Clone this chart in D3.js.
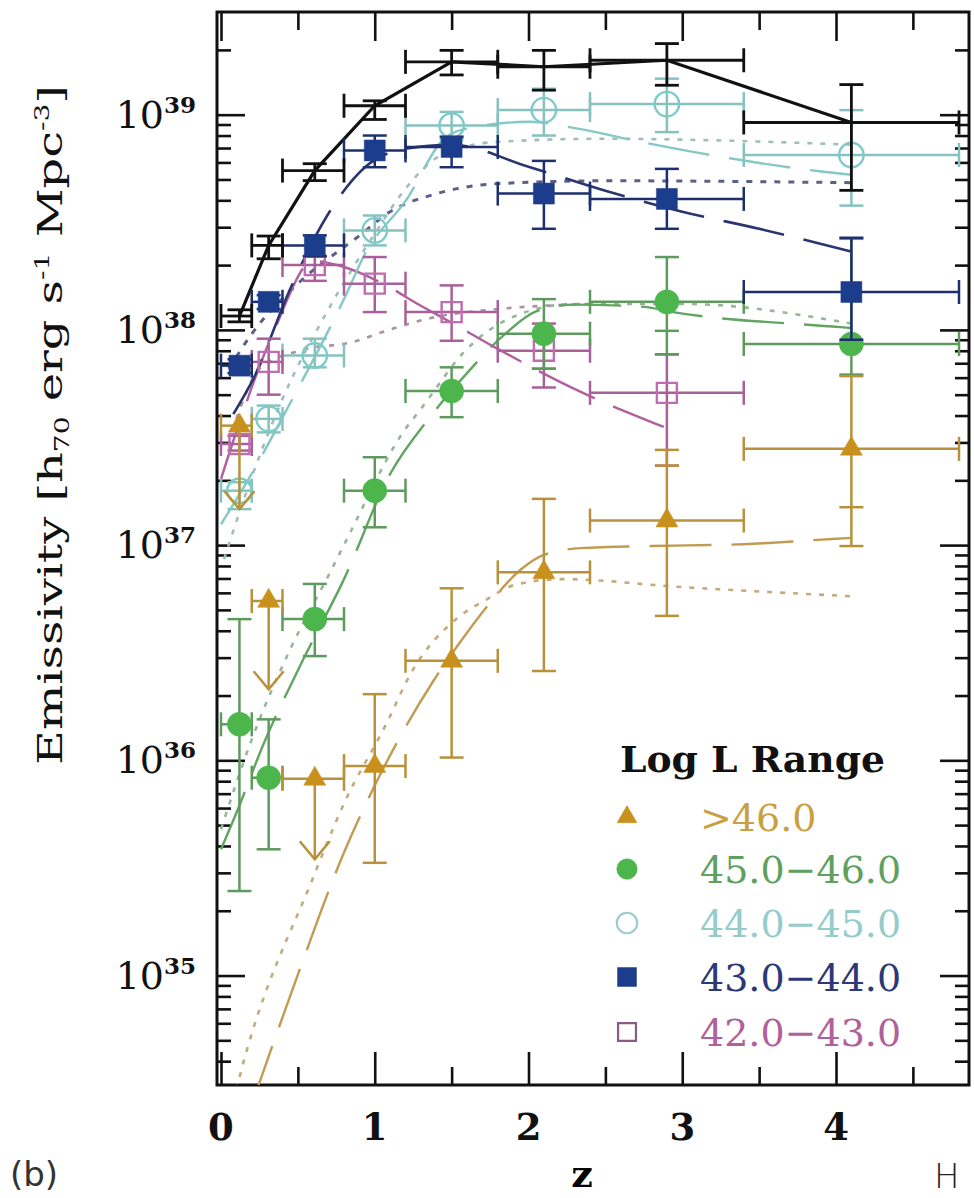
<!DOCTYPE html>
<html>
<head>
<meta charset="utf-8">
<script src="https://cdn.jsdelivr.net/npm/d3@7"></script>
<style>
	body { margin: 0; background: #fff; }
</style>
</head>
<body>
<div id="chart"></div>
<script>
// redshift bins
const zMid = [0.12, 0.31, 0.61, 1.0, 1.5, 2.1, 2.9, 4.1];
const zLo = [0.0, 0.2, 0.4, 0.8, 1.2, 1.8, 2.4, 3.4];
const zHi = [0.2, 0.4, 0.8, 1.2, 1.8, 2.4, 3.4, 4.8];

// total emissivity (black)
const totalVal = [1.16e38, 2.47e38, 5.5e38, 1.10e39, 1.76e39, 1.67e39, 1.79e39, 9.2e38];
const totalHi = [1.24e38, 2.73e38, 5.92e38, 1.16e39, 1.99e39, 1.99e39, 2.14e39, 1.38e39];
const totalLo = [1.09e38, 2.14e38, 4.94e38, 9.5e38, 1.53e39, 1.30e39, 1.37e39, 4.45e38];

// Log L 43.0-44.0
const blueVal = [6.82e37, 1.35e38, 2.47e38, 6.82e38, 7.08e38, 4.30e38, 4.06e38, 1.50e38];
const blueHi = [7.3e37, 1.45e38, 2.75e38, 8.0e38, 7.9e38, 6.1e38, 5.6e38, 2.68e38];
const blueLo = [6.3e37, 1.25e38, 2.2e38, 5.7e38, 5.7e38, 2.95e38, 2.95e38, 9.0e37];
const blueDashed = [[0.08, 4.06e37], [0.21, 5.92e37], [0.45, 1.55e38], [0.69, 3.39e38], [0.94, 5.73e38], [1.2, 6.95e38], [1.5, 7.25e38], [2.0, 5.73e38], [2.5, 4.43e38], [3.0, 3.54e38], [3.5, 2.95e38], [4.1, 2.31e38]];
const blueDotted = [[0.05, 6.59e37], [0.2, 9.58e37], [0.5, 1.64e38], [0.9, 2.74e38], [1.1, 3.54e38], [1.4, 4.29e38], [1.8, 4.78e38], [2.5, 4.93e38], [4.1, 4.83e38]];

// Log L 44.0-45.0
const cyanVal = [1.79e37, 3.86e37, 7.6e37, 2.90e38, 8.9e38, 1.05e39, 1.12e39, 6.5e38];
const cyanHi = [1.96e37, 4.45e37, 9.1e37, 3.4e38, 1.03e39, 1.32e39, 1.47e39, 1.05e39];
const cyanLo = [1.47e37, 3.34e37, 6.7e37, 2.47e38, 7.7e38, 8.0e38, 8.3e38, 3.78e38];
const cyanDashed = [[0.0, 1.25e37], [0.18, 2.03e37], [0.44, 4.43e37], [0.81, 1.44e38], [0.93, 2.21e38], [1.21, 4.06e38], [1.45, 7.73e38], [1.6, 8.61e38], [2.01, 9.27e38], [2.32, 8.61e38], [2.73, 7.48e38], [3.33, 6.24e38], [3.92, 5.43e38], [4.1, 5.26e38]];
const cyanDotted = [[0.02, 8.61e36], [0.15, 1.64e37], [0.4, 4.78e37], [0.7, 1.25e38], [1.0, 2.8e38], [1.2, 4.53e38], [1.45, 6.59e38], [1.8, 7.48e38], [2.5, 7.73e38], [3.3, 7.57e38], [4.1, 7.25e38]];

// Log L 42.0-43.0
const magentaVal = [2.95e37, 7.1e37, 2.0e38, 1.64e38, 1.21e38, 8.0e37, 5.1e37];
const magentaHi = [3.22e37, 9.1e37, 2.19e38, 2.18e38, 1.61e38, 1.07e38, 7.7e37];
const magentaLo = [2.75e37, 5.0e37, 1.69e38, 1.21e38, 8.9e37, 5.4e37, 2.34e37];
const magentaDashed = [[0.0, 2.03e37], [0.15, 4.29e37], [0.35, 1.01e38], [0.6, 2.09e38], [0.8, 1.96e38], [1.08, 1.60e38], [1.28, 1.32e38], [1.49, 1.09e38], [1.8, 8.16e37], [2.34, 5.15e37], [2.88, 3.54e37]];
const magentaDotted = [[0.1, 3.86e37], [0.25, 6.59e37], [0.5, 7.98e37], [0.86, 8.8e37], [1.11, 1.01e38], [1.4, 1.15e38], [1.8, 1.25e38], [2.4, 1.32e38]];

// Log L 45.0-46.0
const greenVal = [1.47e36, 8.3e35, 4.53e36, 1.79e37, 5.2e37, 9.6e37, 1.35e38, 8.6e37];
const greenHi = [4.53e36, 1.55e36, 6.6e36, 2.56e37, 6.7e37, 1.39e38, 2.18e38, 2.65e38];
const greenLo = [2.47e35, 3.86e35, 3.05e36, 1.21e37, 3.93e37, 6.6e37, 7.7e37, 6.2e37];
const greenDashed = [[0.0, 3.86e35], [0.11, 5.92e35], [0.27, 1.16e36], [0.52, 2.80e36], [0.8, 6.95e36], [1.1, 2.14e37], [1.36, 3.94e37], [1.6, 6.3e37], [1.85, 9.6e37], [2.05, 1.22e38], [2.3, 1.31e38], [2.75, 1.28e38], [2.94, 1.21e38], [4.03, 1.03e38], [4.1, 1.02e38]];
const greenDotted = [[0.0, 4.78e35], [0.2, 1.25e36], [0.45, 3.28e36], [0.71, 7.48e36], [0.82, 1.07e37], [1.19, 3.39e37], [1.3, 4.29e37], [1.6, 8.16e37], [1.9, 1.15e38], [2.3, 1.32e38], [3.0, 1.32e38], [4.1, 1.07e38]];

// Log L > 46.0 (first three are upper limits)
const orangeVal = [3.59e37, 5.5e36, 8.2e35, 9.4e35, 2.90e36, 7.47e36, 1.30e37, 2.80e37];
const orangeHi = [null, null, null, 2.03e36, 6.3e36, 1.64e37, 2.77e37, 6.1e37];
const orangeLo = [null, null, null, 3.34e35, 1.03e36, 2.6e36, 4.69e36, 9.9e36];
const orangeLimit = [1.47e37, 2.14e36, 3.47e35, null, null, null, null, null];
const orangeDashed = [[0.2, 2.51e34], [0.5, 1.01e35], [0.8, 3.73e35], [1.02, 8.16e35], [1.15, 1.23e36], [1.38, 2.33e36], [1.55, 3.5e36], [1.75, 5.4e36], [1.95, 7.7e36], [2.1, 9.0e36], [2.34, 9.68e36], [2.8, 9.9e36], [3.4, 1.01e37], [4.0, 1.07e37], [4.1, 1.08e37]];
const orangeDotted = [[0.1, 2.95e34], [0.12, 3.36e34], [0.6, 2.86e35], [0.8, 6.3e35], [1.08, 1.5e36], [1.23, 2.5e36], [1.54, 4.6e36], [1.73, 5.6e36], [1.9, 6.5e36], [2.21, 6.95e36], [3.0, 6.38e36], [4.09, 5.79e36]];

// second caps on a few bars: [bin index, value]
const greenExtraCaps = [[6, 9.9e37]];
const orangeExtraCaps = [[6, 2.34e37], [7, 1.50e37]];
const magentaExtraCaps = [[5, 6.6e37]];

const legendLabels = [">46.0", "45.0\u221246.0", "44.0\u221245.0", "43.0\u221244.0", "42.0\u221243.0"];
const yTickExp = [35, 36, 37, 38, 39];
const xTickLabels = [0, 1, 2, 3, 4];

function main() {
	const width = 974, height = 1198;
	const plot = { left: 217, right: 969, top: 12, bottom: 1085 };

	const svg = d3
		.select("#chart")
		.append("svg")
		.attr("width", width)
		.attr("height", height)
		.style("font-family", "DejaVu Serif");

	const x = d3.scaleLinear().domain([-0.026, 4.865]).range([plot.left, plot.right]);
	const y = d3.scaleLog().domain([3.1e34, 3.0e39]).range([plot.bottom, plot.top]);

	svg.append("defs")
		.append("clipPath")
		.attr("id", "plotclip")
		.append("rect")
		.attr("x", plot.left)
		.attr("y", plot.top)
		.attr("width", plot.right - plot.left)
		.attr("height", plot.bottom - plot.top);

	// ---- ticks (all pointing inward) ----
	const xMinor = [0.5, 1.5, 2.5, 3.5, 4.5];
	const yMajor = yTickExp.map((e) => Math.pow(10, e));
	const yMinor = [];
	for (let e = 34; e <= 39; e++) {
		for (let m = 2; m <= 9; m++) {
			const v = m * Math.pow(10, e);
			if (v > y.domain()[0] && v < y.domain()[1]) yMinor.push(v);
		}
	}

	function tickGroup(axis, tr) {
		svg.append("g")
			.attr("transform", tr)
			.call(axis.tickFormat(""))
			.call((g) => g.select(".domain").remove())
			.call((g) => g.selectAll("line").attr("stroke", "#111").attr("stroke-width", 2.6));
	}
	tickGroup(d3.axisBottom(x).tickValues(xTickLabels).tickSize(-33), `translate(0,${plot.bottom})`);
	tickGroup(d3.axisBottom(x).tickValues(xMinor).tickSize(-18), `translate(0,${plot.bottom})`);
	tickGroup(d3.axisTop(x).tickValues(xTickLabels).tickSize(-29), `translate(0,${plot.top})`);
	tickGroup(d3.axisTop(x).tickValues(xMinor).tickSize(-18), `translate(0,${plot.top})`);
	tickGroup(d3.axisLeft(y).tickValues(yMajor).tickSize(-28), `translate(${plot.left},0)`);
	tickGroup(d3.axisLeft(y).tickValues(yMinor).tickSize(-14), `translate(${plot.left},0)`);
	tickGroup(d3.axisRight(y).tickValues(yMajor).tickSize(-29), `translate(${plot.right},0)`);
	tickGroup(d3.axisRight(y).tickValues(yMinor).tickSize(-14), `translate(${plot.right},0)`);

	// frame
	svg.append("rect")
		.attr("x", plot.left)
		.attr("y", plot.top)
		.attr("width", plot.right - plot.left)
		.attr("height", plot.bottom - plot.top)
		.attr("fill", "none")
		.attr("stroke", "#111")
		.attr("stroke-width", 3);

	// tick labels
	const yl = svg
		.selectAll(".ylab")
		.data(yTickExp)
		.join("text")
		.attr("class", "ylab")
		.attr("x", 196)
		.attr("y", (d) => y(Math.pow(10, d)) + 13)
		.attr("text-anchor", "end")
		.attr("fill", "#111")
		.style("font-size", "38px");
	yl.append("tspan").text("10");
	yl.append("tspan")
		.attr("dy", -15)
		.style("font-size", "23px")
		.style("font-weight", "bold")
		.text((d) => d);

	svg.selectAll(".xlab")
		.data(xTickLabels)
		.join("text")
		.attr("class", "xlab")
		.attr("x", (d) => x(d))
		.attr("y", 1140)
		.attr("text-anchor", "middle")
		.attr("fill", "#111")
		.style("font-size", "37px")
		.style("font-weight", "bold")
		.text((d) => d);

	svg.append("text")
		.attr("x", 582)
		.attr("y", 1187)
		.attr("text-anchor", "middle")
		.style("font-size", "38px")
		.style("font-weight", "bold")
		.text("z");

	// y axis title
	const yt = svg
		.append("text")
		.attr("transform", "translate(62,425) rotate(-90)")
		.attr("text-anchor", "middle")
		.attr("fill", "#111")
		.attr("textLength", 680)
		.attr("lengthAdjust", "spacingAndGlyphs")
		.style("font-size", "34px")
		.style("font-stretch", "condensed");
	yt.append("tspan").text("Emissivity [h");
	yt.append("tspan").attr("dy", 7).style("font-size", "20px").text("70");
	yt.append("tspan").attr("dy", -7).text(" erg s");
	yt.append("tspan").attr("dy", -13).style("font-size", "20px").text("-1");
	yt.append("tspan").attr("dy", 13).text(" Mpc");
	yt.append("tspan").attr("dy", -13).style("font-size", "20px").text("-3");
	yt.append("tspan").attr("dy", 13).text("]");

	svg.append("text")
		.attr("x", 10)
		.attr("y", 1186)
		.style("font-family", "DejaVu Sans")
		.style("font-size", "34px")
		.attr("fill", "#333")
		.text("(b)");

	svg.append("text")
		.attr("x", 934)
		.attr("y", 1188)
		.style("font-family", "DejaVu Sans")
		.style("font-weight", "200")
		.style("font-size", "34px")
		.attr("fill", "#222")
		.text("H");

	// ---- model curves ----
	const line = d3
		.line()
		.x((d) => x(d[0]))
		.y((d) => y(d[1]))
		.curve(d3.curveMonotoneX);
	const models = svg.append("g").attr("clip-path", "url(#plotclip)");
	const curves = [
		{ pts: orangeDotted, color: "#c2ab7e", dash: "5,8", w: 2.6 },
		{ pts: greenDotted, color: "#98b698", dash: "5,8", w: 2.6 },
		{ pts: magentaDotted, color: "#a892a4", dash: "5,8", w: 2.6 },
		{ pts: cyanDotted, color: "#a3bdbd", dash: "5,8", w: 2.6 },
		{ pts: blueDotted, color: "#5b6085", dash: "6,8", w: 3 },
		{ pts: orangeDashed, color: "#c29b52", dash: "62,20", w: 2.4 },
		{ pts: greenDashed, color: "#62a462", dash: "62,20", w: 2.4 },
		{ pts: magentaDashed, color: "#b0609e", dash: "62,20", w: 2.4 },
		{ pts: cyanDashed, color: "#86c8c4", dash: "62,20", w: 2.4 },
		{ pts: blueDashed, color: "#2a356f", dash: "62,20", w: 2.6 },
	];
	curves.forEach((c) => {
		models.append("path")
			.attr("d", line(c.pts))
			.attr("fill", "none")
			.attr("stroke", c.color)
			.attr("stroke-width", c.w)
			.attr("stroke-dasharray", c.dash);
	});

	// ---- data series ----
	const series = [
		{ val: cyanVal, hi: cyanHi, lo: cyanLo, bar: "#86c2be", sym: "ocircle", col: "#7ecaca", caps: [] },
		{ val: magentaVal, hi: magentaHi, lo: magentaLo, bar: "#a8609a", sym: "osquare", col: "#c06cb0", caps: magentaExtraCaps },
		{ val: greenVal, hi: greenHi, lo: greenLo, bar: "#5e9a5e", sym: "circle", col: "#4cb54c", caps: greenExtraCaps },
		{ val: orangeVal, hi: orangeHi, lo: orangeLo, bar: "#b8923a", sym: "triangle", col: "#c8901c", caps: orangeExtraCaps, limit: orangeLimit },
		{ val: blueVal, hi: blueHi, lo: blueLo, bar: "#1e2f6e", sym: "square", col: "#1c3c8c", caps: [] },
		{ val: totalVal, hi: totalHi, lo: totalLo, bar: "#111", sym: null, col: "#111", caps: [] },
	];

	// black line joins the total points
	svg.append("path")
		.attr("d", d3.line().x((d, i) => x(zMid[i])).y((d) => y(d))(totalVal))
		.attr("fill", "none")
		.attr("stroke", "#111")
		.attr("stroke-width", 3.2);

	const cw = 12;
	series.forEach((s) => {
		const g = svg.append("g").attr("stroke", s.bar).attr("stroke-width", s.sym ? 2.5 : 2.8).attr("fill", "none");
		s.val.forEach((v, i) => {
			const cx = x(zMid[i]), cy = y(v);
			// z bin
			g.append("line").attr("x1", x(zLo[i])).attr("x2", x(zHi[i])).attr("y1", cy).attr("y2", cy);
			g.append("line").attr("x1", x(zLo[i])).attr("x2", x(zLo[i])).attr("y1", cy - cw).attr("y2", cy + cw);
			g.append("line").attr("x1", x(zHi[i])).attr("x2", x(zHi[i])).attr("y1", cy - cw).attr("y2", cy + cw);
			if (s.limit && s.limit[i] != null) {
				const ty = y(s.limit[i]);
				g.append("line").attr("x1", cx).attr("x2", cx).attr("y1", cy).attr("y2", ty);
				g.append("path").attr("d", `M${cx - 15},${ty - 18}L${cx},${ty}L${cx + 15},${ty - 18}`);
			} else {
				const y1 = y(s.hi[i]), y2 = y(s.lo[i]);
				g.append("line").attr("x1", cx).attr("x2", cx).attr("y1", y1).attr("y2", y2);
				[y1, y2].forEach((yy) =>
					g.append("line").attr("x1", cx - cw).attr("x2", cx + cw).attr("y1", yy).attr("y2", yy)
				);
			}
		});
		s.caps.forEach(([i, v]) => {
			const cx = x(zMid[i]);
			g.append("line").attr("x1", cx - cw).attr("x2", cx + cw).attr("y1", y(v)).attr("y2", y(v));
		});
		if (!s.sym) return;
		svg.append("g")
			.selectAll("path")
			.data(s.val)
			.join("path")
			.attr("transform", (d, i) => `translate(${x(zMid[i])},${y(d)})`)
			.attr("d", symbolPath(s.sym))
			.attr("fill", s.sym.startsWith("o") ? "none" : s.col)
			.attr("stroke", s.col)
			.attr("stroke-width", s.sym.startsWith("o") ? 2.4 : 0.5);
	});

	function symbolPath(kind) {
		if (kind === "square") return d3.symbol().type(d3.symbolSquare).size(440)();
		if (kind === "osquare") return d3.symbol().type(d3.symbolSquare).size(400)();
		if (kind === "circle") return d3.symbol().type(d3.symbolCircle).size(460)();
		if (kind === "ocircle") return d3.symbol().type(d3.symbolCircle).size(470)();
		return d3.symbol().type(d3.symbolTriangle).size(210)();
	}

	// ---- legend ----
	svg.append("text")
		.attr("x", 620)
		.attr("y", 772)
		.attr("fill", "#111")
		.attr("textLength", 265)
		.attr("lengthAdjust", "spacingAndGlyphs")
		.style("font-size", "35px")
		.style("font-weight", "bold")
		.text("Log L Range");

	const legendSym = ["triangle", "circle", "ocircle", "square", "osquare"];
	const legendSymCol = ["#c8901c", "#4cb54c", "#9ccccc", "#1c3c8c", "#8a5a88"];
	const legendTextCol = ["#c9a040", "#5ea05e", "#94cccc", "#2c3878", "#b0609a"];
	const rowY = [817, 869, 923, 977, 1032];
	legendLabels.forEach((lab, i) => {
		const k = legendSym[i];
		const sizes = { triangle: 170, circle: 330, ocircle: 330, square: 360, osquare: 320 };
		svg.append("path")
			.attr("transform", `translate(627,${rowY[i]})`)
			.attr("d", d3.symbol().type(k.includes("circle") ? d3.symbolCircle : k.includes("square") ? d3.symbolSquare : d3.symbolTriangle).size(sizes[k])())
			.attr("fill", k.startsWith("o") ? "none" : legendSymCol[i])
			.attr("stroke", legendSymCol[i])
			.attr("stroke-width", k.startsWith("o") ? 2.2 : 0.5);
		svg.append("text")
			.attr("x", 700)
			.attr("y", rowY[i] + 14)
			.attr("fill", legendTextCol[i])
			.style("font-size", "38px")
			.text(lab);
	});
}

main();
</script>
</body>
</html>
